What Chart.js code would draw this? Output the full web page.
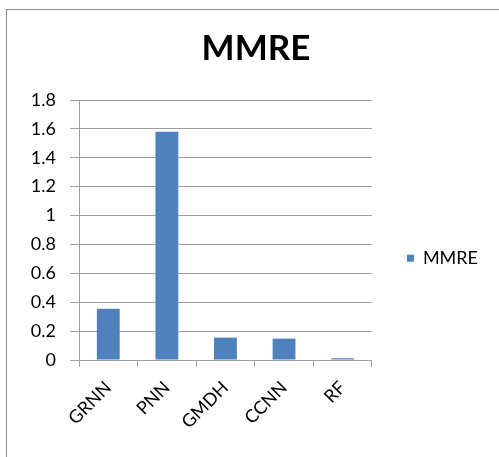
<!DOCTYPE html>
<html>
<head>
<meta charset="utf-8">
<script src="https://cdn.jsdelivr.net/npm/chart.js@4.4.0/dist/chart.umd.min.js"></script>
<style>
  html, body { margin: 0; padding: 0; background: #fff; }
  #wrap { position: relative; width: 499px; height: 457px; }
  #frame { position: absolute; left: 6px; top: 9px; width: 493px; height: 448px;
           border-top: 1px solid #8c8c8c; border-left: 1px solid #8c8c8c; box-sizing: border-box; }
  #mmreChart { position: absolute; left: 0; top: 0; }
</style>
</head>
<body>
<div id="wrap">
  <div id="frame"></div>
  <canvas id="mmreChart" width="499" height="457"></canvas>
</div>
<script>
// 차트 데이터
const categories = ['GRNN', 'PNN', 'GMDH', 'CCNN', 'RF'];
const mmreValues = [0.355, 1.58, 0.155, 0.148, 0.012];
const seriesName = 'MMRE';
const yMin = 0;
const yMax = 1.8;
const yStep = 0.2;

const fontFamily = "Lato, 'Open Sans', sans-serif";
const gridColor = '#a0a0a0';

/**
 * 차트 설정
 */
let config = {
	type: 'bar',
	data: {
		labels: categories,
		datasets: [{
			label: seriesName,
			data: mmreValues,
			backgroundColor: '#4f81bd',
			borderWidth: 0,
			categoryPercentage: 1,
			barPercentage: 0.39
		}]
	},
	options: {
		responsive: false,
		animation: false,
		layout: {
			padding: { left: 24, right: 11, top: 0, bottom: 17 }
		},
		plugins: {
			title: {
				display: true,
				text: seriesName,
				color: '#000',
				font: { family: fontFamily, size: 35, weight: 'bold' },
				padding: { top: 28, bottom: 30 }
			},
			legend: {
				display: true,
				position: 'right',
				maxWidth: 127,
				// 빈 제목으로 범례 위치를 아래로 내림
				title: {
					display: true,
					text: '',
					font: { size: 12 },
					padding: { top: 62, bottom: 0 }
				},
				labels: {
					boxWidth: 7,
					boxHeight: 7,
					padding: 35,
					color: '#000',
					font: { family: fontFamily, size: 18 }
				}
			},
			tooltip: { enabled: false }
		},
		scales: {
			x: {
				afterFit: (scale) => { scale.height = 80; },
				grid: {
					offset: true,
					drawOnChartArea: false,
					tickLength: 7,
					color: gridColor
				},
				border: { color: gridColor },
				ticks: {
					minRotation: 45,
					maxRotation: 45,
					padding: 10,
					color: '#000',
					font: { family: fontFamily, size: 18 }
				}
			},
			y: {
				min: yMin,
				max: yMax,
				afterFit: (scale) => { scale.width = 55; },
				grid: {
					color: gridColor,
					tickLength: 9
				},
				border: { color: gridColor },
				ticks: {
					stepSize: yStep,
					padding: 14,
					color: '#000',
					font: { family: fontFamily, size: 18 },
					callback: (value) => String(parseFloat(Number(value).toFixed(1)))
				}
			}
		}
	}
};

const mmreChart = new Chart(document.getElementById('mmreChart'), config);
</script>
</body>
</html>
